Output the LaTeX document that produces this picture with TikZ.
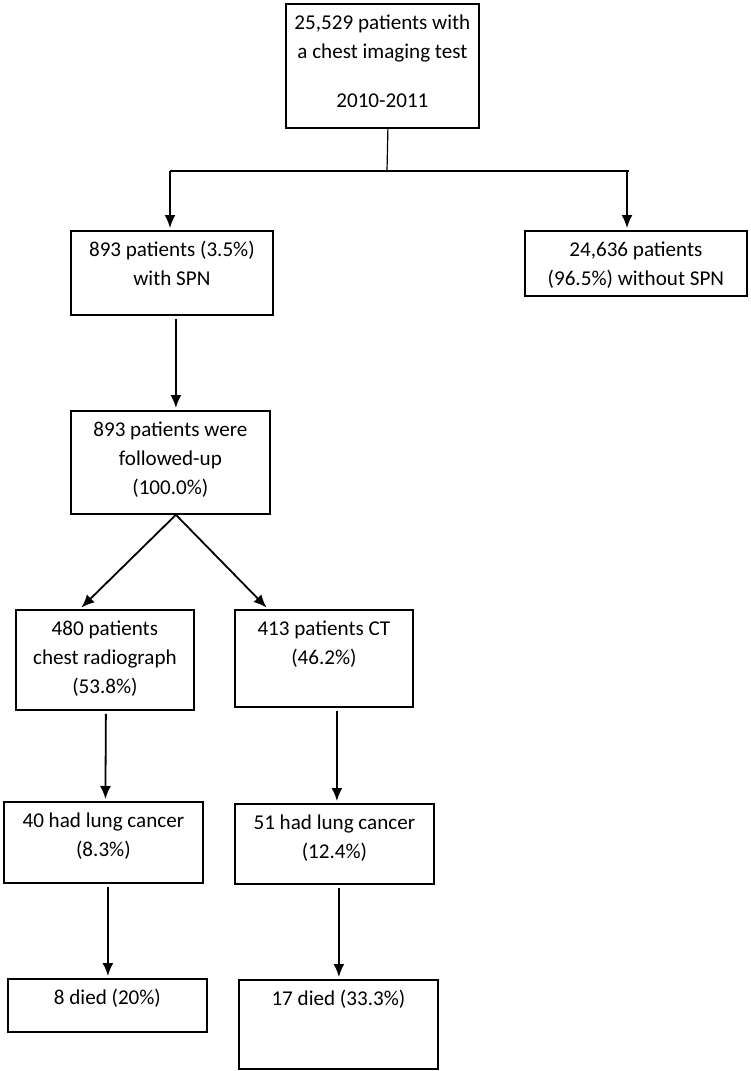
\documentclass[tikz,border=0pt]{standalone}
\usepackage{fontspec}
\setmainfont{Carlito}
\usetikzlibrary{arrows.meta}
\newcommand{\boxtxt}[3]{\parbox[c][#2][t]{#1}{\centering\rule{0pt}{13pt}#3}}

\begin{document}
\begin{tikzpicture}[x=0.5pt,y=-0.5pt,
  box/.style={draw,line width=0.9pt,anchor=north west,inner sep=0pt,font=\fontsize{10.55}{14.5}\selectfont},
  arr/.style={-{Latex[length=6.5pt,width=5.5pt]},line width=0.9pt,shorten >=1pt,shorten <=1.5pt}]
\useasboundingbox (0,0) rectangle (750,1071);
% boxes
\node[box] (T) at (285,3) {\boxtxt{96.5pt}{62pt}{25,529 patients with\\ a chest imaging test\\[10pt] 2010-2011}};
\node[box] (spn) at (70,230) {\boxtxt{101pt}{42pt}{893 patients (3.5\%)\\ with SPN}};
\node[box] (nospn) at (524,230) {\boxtxt{111pt}{32.5pt}{24,636 patients\\ (96.5\%) without SPN}};
\node[box] (fu) at (70,410) {\boxtxt{99.5pt}{51.5pt}{893 patients were\\ followed-up\\ (100.0\%)}};
\node[box] (xr) at (15,609) {\boxtxt{89pt}{50pt}{480 patients\\ chest radiograph\\ (53.8\%)}};
\node[box] (ct) at (234,609) {\boxtxt{89pt}{48.5pt}{413 patients CT\\ (46.2\%)}};
\node[box] (lcxr) at (3,801) {\boxtxt{99.5pt}{40.5pt}{40 had lung cancer\\ (8.3\%)}};
\node[box] (lcct) at (234,803) {\boxtxt{99.5pt}{40pt}{51 had lung cancer\\ (12.4\%)}};
\node[box] (dxr) at (7,978) {\boxtxt{99.5pt}{26.5pt}{8 died (20\%)}};
\node[box] (dct) at (238,979) {\boxtxt{99.5pt}{44.5pt}{17 died (33.3\%)}};
% split
\coordinate (split) at (387,171);
\coordinate (jl) at (170,171);
\coordinate (jr) at (627,171);
\draw[semithick] ([xshift=2.75pt]T.south) -- (split);
\draw[semithick] (jl) -- ([xshift=1pt]jr);
\draw[arr,shorten <=0pt] (jl) -- (jl |- spn.north);
\draw[arr,shorten <=0pt] (jr) -- (jr |- nospn.north);
% arrows
\draw[arr] ([xshift=2pt]spn.south) -- ([xshift=2.75pt]fu.north);
\draw[arr,shorten <=0pt] ([xshift=2.75pt]fu.south) -- ([xshift=32.5pt]xr.north west);
\draw[arr,shorten <=0pt] ([xshift=2.75pt]fu.south) -- ([xshift=17pt]ct.north west);
\draw[arr] ([xshift=0.5pt]xr.south) -- ([xshift=1pt]lcxr.north);
\draw[arr] ([xshift=6.5pt]ct.south) -- ([xshift=1.25pt]lcct.north);
\draw[arr] ([xshift=2.25pt]lcxr.south) -- ([xshift=0.25pt]dxr.north);
\draw[arr] ([xshift=2.25pt]lcct.south) -- ([xshift=0.25pt]dct.north);
\end{tikzpicture}
\end{document}
